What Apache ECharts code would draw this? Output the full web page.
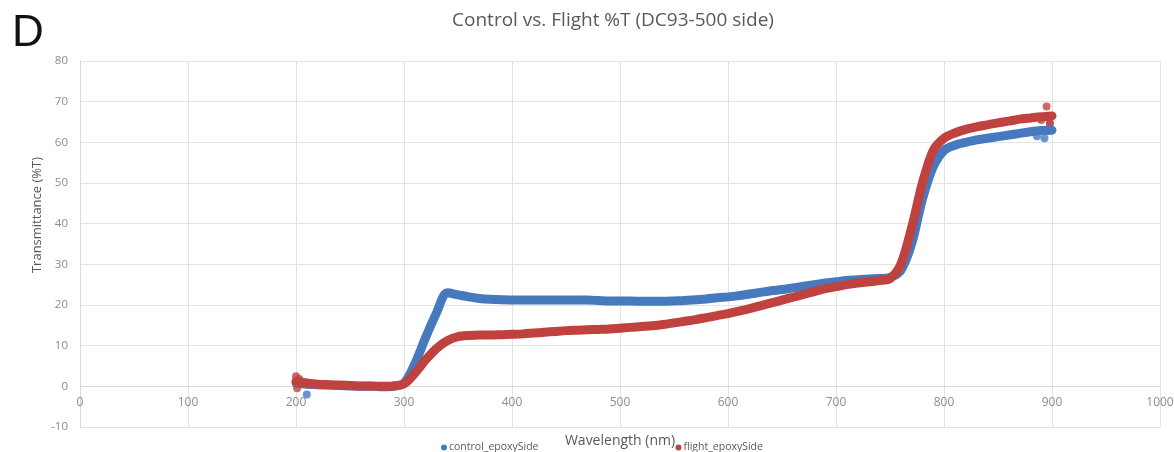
<!DOCTYPE html>
<html>
<head>
<meta charset="utf-8">
<script src="https://cdn.jsdelivr.net/npm/echarts@6/dist/echarts.min.js"></script>
<style>html,body{margin:0;padding:0;background:#fff;}#chart{width:1174px;height:452px;}</style>
</head>
<body>
<div id="chart"></div>
<script>
const wavelengths = [200,210,220,230,240,250,260,270,280,290,300,310,320,330,340,350,360,370,380,390,400,410,420,430,440,450,460,470,480,490,500,510,520,530,540,550,560,570,580,590,600,610,620,630,640,650,660,670,680,690,700,710,720,730,740,750,760,770,780,790,800,810,820,830,840,850,860,870,880,890,900];
const controlValues = [0.8,0.5,0.4,0.3,0.2,0.1,0.0,0.0,-0.1,0.0,0.8,5.5,12.0,18.0,23.0,22.5,22.0,21.6,21.4,21.3,21.2,21.2,21.2,21.2,21.2,21.2,21.2,21.2,21.1,21.0,21.0,21.0,20.9,20.9,20.9,21.0,21.1,21.3,21.5,21.8,22.0,22.3,22.7,23.1,23.5,23.8,24.2,24.6,25.0,25.4,25.7,26.0,26.2,26.4,26.5,26.8,28.5,35.0,46.0,54.0,58.0,59.3,60.0,60.6,61.0,61.4,61.8,62.2,62.6,62.9,63.0];
const flightValues = [1.2,0.8,0.5,0.4,0.3,0.2,0.1,0.1,0.0,0.1,0.6,3.2,6.5,9.3,11.2,12.2,12.5,12.6,12.6,12.7,12.8,12.9,13.1,13.3,13.5,13.7,13.8,13.9,14.0,14.1,14.3,14.5,14.7,14.9,15.2,15.6,16.0,16.4,16.9,17.4,17.9,18.5,19.1,19.8,20.5,21.2,21.9,22.6,23.3,24.0,24.5,25.0,25.4,25.7,26.0,26.5,30.0,39.0,50.0,58.0,61.0,62.3,63.2,63.8,64.3,64.8,65.2,65.7,66.0,66.3,66.5];
const controlOutliers = [[210,-2.0],[893,61.0],[898,64.5],[886,61.5]];
const flightOutliers = [[200,2.5],[201,-0.5],[203,1.8],[895,68.8],[898,64.8],[890,65.5]];
const xTicks = [0,100,200,300,400,500,600,700,800,900,1000];
const yTicks = [-10,0,10,20,30,40,50,60,70,80];
const seriesNames = ['control_epoxySide','flight_epoxySide'];
const blue = '#4679be';
const red = '#c0423f';

const pair = (xs, ys) => xs.map((x, i) => [x, ys[i]]);

const gridTop = 61, gridBottom = 25, H = 452;
const plotH = H - gridTop - gridBottom;
const yMin = yTicks[0], yMax = yTicks[yTicks.length-1];
const zeroOffset = -plotH * (0 - yMin) / (yMax - yMin);

const chart = echarts.init(document.getElementById('chart'));
chart.setOption({
  animation: false,
  backgroundColor: '#ffffff',
  textStyle: {fontFamily: 'Open Sans'},
  title: {
    text: 'Control vs. Flight %T (DC93-500 side)',
    left: 608, top: 6, textAlign: 'center',
    textStyle: {fontSize: 19, fontWeight: 'normal', color: '#595959', fontFamily: 'Open Sans'}
  },
  graphic: [
    {type: 'text', left: 12, top: 12,
     style: {text: 'D', fontSize: 44, fill: '#111', fontFamily: 'Liberation Sans'}},
    {type: 'text', x: 37, y: 215, rotation: Math.PI / 2,
     style: {text: 'Transmittance (%T)', fontSize: 13, fill: '#595959', fontFamily: 'Open Sans',
             align: 'center', verticalAlign: 'middle'}}
  ],
  legend: {
    data: seriesNames,
    left: 439, top: 440, itemGap: 137, padding: 2,
    itemWidth: 6, itemHeight: 6, icon: 'circle',
    textStyle: {fontSize: 10.5, color: '#595959', padding: [0,0,0,-3]}
  },
  grid: {left: 80, right: 14, top: gridTop, bottom: gridBottom, containLabel: false, outerBoundsMode: 'none'},
  xAxis: {
    type: 'value', min: xTicks[0], max: xTicks[xTicks.length-1], interval: 100,
    position: 'bottom', offset: zeroOffset,
    name: 'Wavelength (nm)', nameLocation: 'middle', nameGap: 48,
    nameTextStyle: {fontSize: 14, color: '#595959'},
    axisLine: {onZero: false, lineStyle: {color: '#d9d9d9'}},
    axisTick: {show: false},
    axisLabel: {color: '#8c8c8c', fontSize: 12, margin: 10, formatter: v => String(v)},
    splitLine: {show: true, lineStyle: {color: '#e3e3e3'}}
  },
  yAxis: {
    type: 'value', min: yMin, max: yMax, interval: 10,
    axisLine: {show: true, onZero: false, lineStyle: {color: '#d9d9d9'}},
    axisTick: {show: false},
    axisLabel: {color: '#8c8c8c', fontSize: 11.5, margin: 12, formatter: v => String(v)},
    splitLine: {show: true, lineStyle: {color: '#e3e3e3'}}
  },
  series: [
    {
      name: seriesNames[0], type: 'line', data: pair(wavelengths, controlValues),
      smooth: 0.3, showSymbol: false, color: blue,
      lineStyle: {width: 9, color: blue, cap: 'round', join: 'round'}, z: 2
    },
    {
      name: seriesNames[0], type: 'scatter', data: controlOutliers,
      symbolSize: 8, itemStyle: {color: blue}, z: 2
    },
    {
      name: seriesNames[1], type: 'line', data: pair(wavelengths, flightValues),
      smooth: 0.3, showSymbol: false, color: red,
      lineStyle: {width: 9, color: red, cap: 'round', join: 'round'}, z: 3
    },
    {
      name: seriesNames[1], type: 'scatter', data: flightOutliers,
      symbolSize: 8, itemStyle: {color: red}, z: 3
    }
  ]
});
</script>
</body>
</html>
